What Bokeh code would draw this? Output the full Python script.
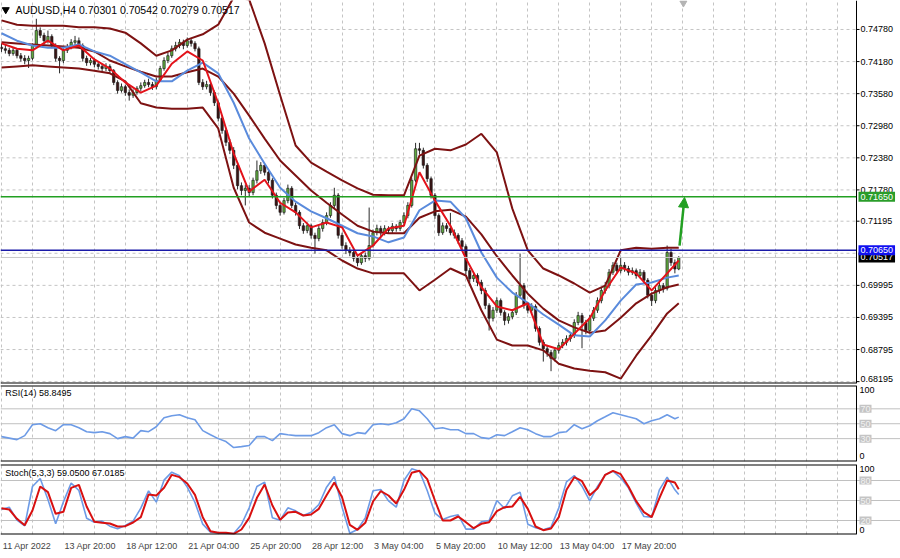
from bokeh.plotting import figure
from bokeh.models import (Range1d, FixedTicker, Span, Label, Arrow, NormalHead, Grid,
                          ColumnDataSource)
from bokeh.core.properties import value
from bokeh.layouts import column
from bokeh.embed import file_html
from bokeh.resources import INLINE

# ---------------- data ----------------
symbol_title = "AUDUSD,H4  0.70301 0.70542 0.70279 0.70517"
rsi_title = "RSI(14) 58.8495"
stoch_title = "Stoch(5,3,3) 59.0500 67.0185"

bar_index = list(range(176))

opens = [
    .7445, .7442, .7439, .7433, .7439, .7429, .7424, .7420, .7424, .7448,
    .7476, .7467, .7457, .7465, .7448, .7424, .7420, .7439, .7446, .7454,
    .7457, .7448, .7424, .7416, .7420, .7413, .7409, .7405, .7409, .7401,
    .7379, .7364, .7371, .7360, .7355, .7360, .7368, .7373, .7379, .7375,
    .7371, .7383, .7405, .7420, .7429, .7442, .7448, .7454, .7448, .7457,
    .7452, .7442, .7379, .7371, .7375, .7360, .7341, .7312, .7289, .7267,
    .7252, .7224, .7186, .7177, .7181, .7173, .7196, .7214, .7224, .7211,
    .7196, .7168, .7149, .7136, .7158, .7181, .7149, .7136, .7111, .7102,
    .7111, .7093, .7087, .7106, .7117, .7130, .7149, .7168, .7093, .7074,
    .7065, .7061, .7050, .7042, .7055, .7050, .7074, .7098, .7106, .7098,
    .7106, .7102, .7110, .7106, .7117, .7130, .7149, .7196, .7255, .7252,
    .7224, .7199, .7168, .7130, .7098, .7111, .7106, .7098, .7093, .7083,
    .7072, .7027, .7012, .7018, .7005, .6990, .6962, .6938, .6953, .6971,
    .6949, .6934, .6941, .6949, .6981, .6999, .6962, .6953, .6960, .6919,
    .6893, .6881, .6874, .6863, .6878, .6887, .6893, .6900, .6906, .6930,
    .6943, .6930, .6915, .6938, .6953, .6971, .6990, .6999, .7024, .7037,
    .7027, .7037, .7031, .7024, .7027, .7018, .7024, .7009, .6981, .6971,
    .6990, .6999, .6994, .7061, .7042, .70301]
highs = [
    .7452, .7449, .7444, .7445, .7442, .7434, .7430, .7429, .7452, .7498,
    .7482, .7472, .7476, .7469, .7452, .7428, .7443, .7451, .7460, .7466,
    .7463, .7452, .7429, .7425, .7424, .7418, .7414, .7415, .7413, .7404,
    .7383, .7377, .7375, .7366, .7366, .7372, .7379, .7384, .7386, .7380,
    .7388, .7410, .7426, .7435, .7448, .7455, .7460, .7459, .7463, .7462,
    .7456, .7446, .7385, .7382, .7379, .7364, .7345, .7318, .7294, .7273,
    .7258, .7229, .7192, .7188, .7187, .7201, .7233, .7230, .7228, .7215,
    .7200, .7173, .7154, .7163, .7188, .7185, .7154, .7140, .7116, .7117,
    .7115, .7098, .7111, .7123, .7136, .7155, .7182, .7172, .7098, .7080,
    .7071, .7066, .7055, .7060, .7061, .7145, .7104, .7113, .7111, .7112,
    .7110, .7116, .7114, .7122, .7136, .7155, .7201, .7266, .7266, .7257,
    .7228, .7203, .7172, .7134, .7117, .7116, .7135, .7104, .7097, .7088,
    .7076, .7032, .7024, .7022, .7010, .6995, .6966, .6959, .6977, .6975,
    .6953, .6947, .6955, .6987, .7059, .7004, .6968, .6966, .6964, .6923,
    .6898, .6887, .6879, .6884, .6893, .6899, .6906, .6912, .6936, .6950,
    .6948, .6935, .6944, .6959, .6977, .6996, .7006, .7030, .7043, .7042,
    .7052, .7043, .7036, .7033, .7031, .7030, .7028, .7013, .6986, .6996,
    .7005, .7004, .7074, .7068, .7048, .70542]
lows = [
    .7436, .7433, .7428, .7429, .7424, .7418, .7413, .7406, .7420, .7444,
    .7462, .7450, .7452, .7443, .7418, .7396, .7415, .7434, .7441, .7449,
    .7443, .7418, .7410, .7411, .7407, .7403, .7399, .7400, .7395, .7374,
    .7358, .7360, .7354, .7345, .7350, .7356, .7363, .7369, .7370, .7365,
    .7366, .7380, .7401, .7415, .7425, .7437, .7443, .7441, .7444, .7446,
    .7437, .7374, .7365, .7366, .7354, .7335, .7306, .7283, .7260, .7245,
    .7217, .7179, .7168, .7149, .7166, .7168, .7190, .7208, .7205, .7190,
    .7162, .7142, .7130, .7132, .7153, .7144, .7130, .7105, .7096, .7097,
    .7087, .7059, .7082, .7100, .7112, .7126, .7144, .7087, .7068, .7058,
    .7054, .7044, .7035, .7038, .7043, .7046, .7070, .7093, .7092, .7093,
    .7096, .7097, .7100, .7101, .7112, .7125, .7145, .7192, .7244, .7218,
    .7193, .7162, .7124, .7092, .7094, .7100, .7093, .7087, .7077, .7066,
    .7020, .7005, .7006, .6998, .6983, .6955, .6915, .6932, .6948, .6943,
    .6925, .6928, .6936, .6944, .6976, .6956, .6947, .6948, .6913, .6887,
    .6857, .6866, .6839, .6857, .6872, .6882, .6887, .6894, .6901, .6925,
    .6882, .6908, .6910, .6933, .6948, .6966, .6984, .6994, .7019, .7021,
    .7022, .7025, .7018, .7019, .7012, .7013, .7003, .6975, .6961, .6966,
    .6984, .6986, .6990, .7036, .7022, .70279]
closes = [
    .7442, .7439, .7433, .7439, .7429, .7424, .7420, .7424, .7448, .7476,
    .7467, .7457, .7465, .7448, .7424, .7420, .7439, .7446, .7454, .7457,
    .7448, .7424, .7416, .7420, .7413, .7409, .7405, .7409, .7401, .7379,
    .7364, .7371, .7360, .7355, .7360, .7368, .7373, .7379, .7375, .7371,
    .7383, .7405, .7420, .7429, .7442, .7448, .7454, .7448, .7457, .7452,
    .7442, .7379, .7371, .7375, .7360, .7341, .7312, .7289, .7267, .7252,
    .7224, .7186, .7177, .7181, .7173, .7196, .7214, .7224, .7211, .7196,
    .7168, .7149, .7136, .7158, .7181, .7149, .7136, .7111, .7102, .7111,
    .7093, .7087, .7106, .7117, .7130, .7149, .7168, .7093, .7074, .7065,
    .7061, .7050, .7042, .7055, .7050, .7074, .7098, .7106, .7098, .7106,
    .7102, .7110, .7106, .7117, .7130, .7149, .7196, .7255, .7252, .7224,
    .7199, .7168, .7130, .7098, .7111, .7106, .7098, .7093, .7083, .7072,
    .7027, .7012, .7018, .7005, .6990, .6962, .6938, .6953, .6971, .6949,
    .6934, .6941, .6949, .6981, .6999, .6962, .6953, .6960, .6919, .6893,
    .6881, .6874, .6863, .6878, .6887, .6893, .6900, .6906, .6930, .6943,
    .6930, .6915, .6938, .6953, .6971, .6990, .6999, .7024, .7037, .7027,
    .7037, .7031, .7024, .7027, .7018, .7024, .7009, .6981, .6971, .6990,
    .6999, .6994, .7061, .7042, .70301, .70517]

line_index = list(range(0, 173, 4)) + [175]
ma_fast = [
    .7452, .7442, .7439, .7457, .7439, .7448, .7422, .7405, .7379, .7360,
    .7373, .7414, .7437, .7420, .7340, .7246, .7175, .7197, .7154, .7136,
    .7108, .7117, .7108, .7055, .7074, .7106, .7111, .7211, .7158, .7111,
    .7050, .6996, .6960, .6953, .6966, .6889, .6880, .6909, .6938, .6990,
    .7033, .7022, .6990, .7022, .7046]
ma_slow = [
    .7471, .7457, .7448, .7444, .7444, .7450, .7437, .7429, .7413, .7398,
    .7381, .7381, .7401, .7416, .7396, .7341, .7274, .7227, .7182, .7156,
    .7138, .7125, .7111, .7097, .7091, .7080, .7089, .7140, .7158, .7156,
    .7125, .7061, .7014, .6986, .6967, .6945, .6926, .6906, .6904, .6934,
    .6971, .7001, .7005, .7014, .7018]
bb_upper = [
    .7495, .7487, .7485, .7485, .7485, .7482, .7482, .7480, .7472, .7452,
    .7429, .7439, .7459, .7469, .7487, .7538, .7534, .7452, .7355, .7261,
    .7229, .7212, .7196, .7181, .7169, .7168, .7168, .7242, .7255, .7252,
    .7263, .7283, .7248, .7143, .7065, .7031, .7018, .7003, .6986, .6999,
    .7065, .7070, .7068, .7070, .7070]
bb_middle = [
    .7454, .7452, .7450, .7448, .7446, .7444, .7437, .7420, .7409, .7399,
    .7390, .7390, .7398, .7405, .7390, .7358, .7317, .7274, .7233, .7205,
    .7177, .7154, .7132, .7111, .7100, .7097, .7097, .7126, .7138, .7141,
    .7128, .7095, .7054, .7018, .6984, .6956, .6934, .6921, .6911, .6915,
    .6939, .6966, .6984, .6996, .7001]
bb_lower = [
    .7407, .7409, .7411, .7409, .7407, .7405, .7401, .7396, .7381, .7340,
    .7332, .7330, .7330, .7332, .7293, .7182, .7117, .7098, .7087, .7076,
    .7070, .7065, .7046, .7031, .7022, .7022, .7022, .6990, .7010, .7031,
    .7018, .6953, .6898, .6887, .6887, .6878, .6853, .6844, .6840, .6837,
    .6825, .6868, .6906, .6947, .6966]

osc_index = list(range(0, 175, 2)) + [175]
rsi = [
    32.7, 30.7, 28.7, 34.0, 48.7, 50.0, 44.7, 40.7, 48.7, 48.7,
    44.7, 39.3, 38.0, 39.3, 36.7, 30.0, 32.7, 30.7, 40.7, 39.3,
    46.0, 58.0, 60.7, 62.0, 58.0, 55.3, 40.7, 35.3, 30.0, 26.0,
    18.0, 19.3, 20.7, 32.7, 32.7, 27.3, 36.7, 35.3, 34.0, 34.0,
    34.0, 38.0, 44.7, 48.7, 36.7, 34.0, 38.0, 36.7, 48.7, 50.0,
    48.7, 51.3, 56.7, 70.0, 67.3, 56.7, 43.3, 44.7, 42.0, 42.0,
    36.7, 36.7, 31.3, 30.0, 35.3, 34.0, 39.3, 44.7, 42.0, 36.7,
    32.7, 32.7, 38.0, 39.3, 48.7, 43.3, 47.3, 54.0, 59.3, 64.7,
    62.0, 59.3, 56.7, 50.0, 54.0, 56.7, 62.0, 56.7, 58.85]
stoch_main = [
    36.5, 40, 20.5, 12, 71, 83, 51.5, 15, 48, 76,
    65, 23.5, 17.5, 19, 11.5, 7.5, 12.5, 19, 38.5, 64.5,
    47.5, 80.5, 92.5, 87, 70, 47, 14.5, 2.5, 1.5, 0.5,
    0.5, 14, 39, 71, 77.5, 24, 20.5, 39, 34.5, 27.5,
    32.5, 44, 70, 86, 40, 1, 6.5, 24, 64.5, 66.5,
    49.5, 40, 80, 97.5, 94, 65, 31, 21.5, 26, 28.5,
    7, 7, 18, 20, 50, 38, 57, 62.5, 14.5, 9,
    6, 10, 39, 78, 87.5, 71.5, 49.5, 71, 88.5, 94,
    84, 69, 46, 26, 25, 66, 85, 66, 59.05]
stoch_signal = [
    38.5, 36.5, 22.5, 13, 35, 71, 62.5, 30, 33, 69,
    73.5, 41, 18, 16.5, 15.5, 11, 11.5, 17, 25, 59,
    57.5, 69, 88.5, 85, 75.5, 58.5, 25, 4, 1.5, 1.5,
    0, 6.5, 24, 54, 74, 42.5, 21, 32, 33, 27.5,
    29, 37.5, 58, 77, 55, 13.5, 6, 16.5, 48.5, 64,
    57.5, 45.5, 66, 91.5, 94.5, 82, 50, 20, 20, 26,
    17.5, 8.5, 15, 17.5, 34, 40, 41, 55.5, 37.5, 11,
    5.5, 8, 25, 66, 85, 79, 58, 68, 88.5, 94.5,
    89.5, 71, 49, 32.5, 25, 53.5, 80, 77, 67.02]

date_ticks = list(range(0, 161, 16))
date_labels = ["11 Apr 2022", "13 Apr 20:00", "18 Apr 12:00", "21 Apr 04:00",
               "25 Apr 20:00", "28 Apr 12:00", "3 May 04:00", "5 May 20:00",
               "10 May 12:00", "13 May 04:00", "17 May 20:00"]
price_ticks = [0.74780, 0.74180, 0.73580, 0.72980, 0.72380, 0.71780, 0.71195,
               0.69995, 0.69395, 0.68795, 0.68195]
price_grid_extra = [0.70595]
resistance = 0.71650
support = 0.70650
last_price = 0.70517
arrow_start = (175.2, 0.7074)
arrow_end = (176.5, 0.7164)
rsi_levels = [70, 50, 30]
stoch_levels = [80, 50, 20]

for arr in (opens, highs, lows, closes):
    assert len(arr) == len(bar_index)
for arr in (ma_fast, ma_slow, bb_upper, bb_middle, bb_lower):
    assert len(arr) == len(line_index)
for arr in (rsi, stoch_main, stoch_signal):
    assert len(arr) == len(osc_index)

# ---------------- layout / styling ----------------
W = 900
X0 = -0.258            # left edge of the panels (bar units)
PLOT_END = 220.93      # right edge of the chart area = price-axis line
UPP = (PLOT_END - X0) / 856.0   # bar units per pixel
X1 = X0 + 900 * UPP
FONT = "Liberation Sans"
FS = "9px"
GRID = "#c4c4c4"
BAND = "#7d1212"
RED = "#e3121a"
BLUE = "#5a8bdc"
GREEN = "#22a022"
NAVY = "#1a1aa8"
AX_TEXT_X = PLOT_END + 4 * UPP
BADGE_X = PLOT_END + 2 * UPP


def base_fig(h, top, bottom, yr, xaxis=False):
    p = figure(width=W, height=h, x_range=Range1d(X0, X1), y_range=Range1d(*yr),
               output_backend="svg", toolbar_location=None,
               x_axis_location="below" if xaxis else None, y_axis_location=None,
               min_border_left=0, min_border_right=0,
               min_border_top=top, min_border_bottom=bottom)
    p.outline_line_color = None
    p.background_fill_color = "white"
    p.border_fill_color = "white"
    p.xgrid.grid_line_color = None
    p.ygrid.grid_line_color = None
    p.add_layout(Grid(dimension=0, ticker=FixedTicker(ticks=list(range(0, 221, 8))),
                      grid_line_color=GRID, grid_line_dash="3 3"))
    p.add_layout(Span(location=PLOT_END, dimension="height", line_color="black",
                      line_width=1))
    return p


def hborder(p, y):
    p.segment(x0=[X0], x1=[PLOT_END], y0=[y], y1=[y], line_color="black", line_width=2)


def side_label(p, y, text, baseline="middle", boxed=False):
    kw = dict(x=AX_TEXT_X - UPP, y=y, text=text, text_font=FONT, text_font_size=FS,
              text_baseline=baseline, text_align="left")
    if boxed:
        kw.update(text_color="#f2f2f2", background_fill_color="#c4c4c4", padding=1)
    else:
        kw.update(text_color="black")
    p.add_layout(Label(**kw))


# ---------------- main price panel ----------------
YMAIN = (0.68160, 0.75322)
main = base_fig(384, 0, 1, YMAIN)
grid_prices = price_ticks + price_grid_extra
main.segment(x0=[X0] * len(grid_prices), x1=[PLOT_END] * len(grid_prices),
             y0=grid_prices, y1=grid_prices, line_color=GRID, line_dash="3 3", line_width=1)
hborder(main, YMAIN[0])

# price axis: ticks + labels (the lowest label sits on the panel's bottom edge)
main.segment(x0=[PLOT_END] * len(price_ticks), x1=[PLOT_END + 3 * UPP] * len(price_ticks),
             y0=price_ticks, y1=price_ticks, line_color="black", line_width=1)
upper_ticks = price_ticks[:-1]
main.text(x=[AX_TEXT_X] * len(upper_ticks), y=upper_ticks,
          text=[f"{t:.5f}" for t in upper_ticks], text_font=value(FONT),
          text_font_size=value(FS), text_baseline="middle", text_align="left",
          text_color="black")
main.text(x=[AX_TEXT_X], y=[price_ticks[-1] - 0.00012],
          text=[f"{price_ticks[-1]:.5f}"], text_font=value(FONT),
          text_font_size=value(FS), text_baseline="bottom", text_align="left",
          text_color="black")

body_top = [max(o, c) for o, c in zip(opens, closes)]
body_bot = [min(o, c) for o, c in zip(opens, closes)]
fills = ["#5ea83e" if c >= o else "#3b1414" for o, c in zip(opens, closes)]
src = ColumnDataSource(dict(x=bar_index, h=highs, l=lows, t=body_top, b=body_bot, f=fills))
main.segment(x0="x", y0="l", x1="x", y1="h", source=src, line_color="#2a2a2a", line_width=1)
main.vbar(x="x", width=0.62, top="t", bottom="b", source=src, fill_color="f",
          line_color="#151515", line_width=0.6)

for band in (bb_upper, bb_middle, bb_lower):
    main.line(line_index, band, line_color=BAND, line_width=2)
main.line(line_index, ma_slow, line_color=BLUE, line_width=2)
main.line(line_index, ma_fast, line_color=RED, line_width=2)

main.segment(x0=[X0] * 3, x1=[PLOT_END] * 3, y0=[last_price, support, resistance],
             y1=[last_price, support, resistance],
             line_color=["#c8c8c8", NAVY, GREEN], line_width=[1, 1.5, 1.5])
main.add_layout(Arrow(end=NormalHead(size=10, fill_color=GREEN, line_color=GREEN),
                      x_start=arrow_start[0], y_start=arrow_start[1],
                      x_end=arrow_end[0], y_end=arrow_end[1],
                      line_color=GREEN, line_width=2.5))

main.scatter([1.1], [0.75150], marker="inverted_triangle", size=7, color="black")
main.scatter([176.2], [0.75275], marker="inverted_triangle", size=7, color="#b4b4b4")
main.add_layout(Label(x=3.6, y=0.75150, text=symbol_title, text_font=FONT,
                      text_font_size="10.5px", text_baseline="middle", text_color="black"))

for val, bg in ((last_price, "black"), (support, "#1010f0"), (resistance, "#2a9d2a")):
    main.add_layout(Label(x=BADGE_X, y=val, text=f"{val:.5f}", text_font=FONT,
                          text_font_size=FS, text_baseline="middle", text_color="white",
                          background_fill_color=bg, padding=2))

# ---------------- RSI panel ----------------
YRSI = (-0.7, 101.3)
prsi = base_fig(78, 1, 1, YRSI)
for lv in rsi_levels:
    prsi.add_layout(Span(location=lv, dimension="width", line_color="#c0c0c0",
                         line_width=1, level="underlay"))
prsi.line(osc_index, rsi, line_color="#6d9be6", line_width=1.6)
hborder(prsi, YRSI[0])
hborder(prsi, YRSI[1])
prsi.add_layout(Label(x=1.0, y=91, text=rsi_title, text_font=FONT, text_font_size=FS,
                      text_baseline="middle", text_color="black"))
side_label(prsi, 99, "100", baseline="top")
for lv in rsi_levels:
    side_label(prsi, lv, str(lv), boxed=True)
side_label(prsi, 2, "0", baseline="bottom")

# ---------------- Stochastic panel ----------------
YST = (-1, 104)
pst = base_fig(96, 2, 24, YST, xaxis=True)
for lv in stoch_levels:
    pst.add_layout(Span(location=lv, dimension="width", line_color="#c0c0c0",
                        line_width=1, level="underlay"))
pst.line(osc_index, stoch_main, line_color="#6d9be6", line_width=1.6)
pst.line(osc_index, stoch_signal, line_color="#d81010", line_width=2)
hborder(pst, YST[0])
hborder(pst, YST[1])
pst.add_layout(Label(x=1.0, y=92, text=stoch_title, text_font=FONT, text_font_size=FS,
                     text_baseline="middle", text_color="black"))
side_label(pst, 102, "100", baseline="top")
for lv in stoch_levels:
    side_label(pst, lv, str(lv), boxed=True)
side_label(pst, 1, "0", baseline="bottom")

# time axis: each label starts just right of its bar position
EM = {" ": 0.278, ":": 0.278, "A": 0.667, "p": 0.556, "r": 0.333, "M": 0.833,
      "a": 0.556, "y": 0.5}


def text_px(s):
    return sum(EM.get(ch, 0.556) for ch in s) * 9


label_pos = [t + (text_px(s) / 2 + 1) * UPP for t, s in zip(date_ticks, date_labels)]
xa = pst.xaxis[0]
xa.ticker = FixedTicker(ticks=label_pos)
xa.major_label_overrides = {pos: s for pos, s in zip(label_pos, date_labels)}
xa.major_label_text_font = FONT
xa.major_label_text_font_size = FS
xa.major_label_standoff = 0
xa.major_tick_line_color = None
xa.minor_tick_line_color = None
xa.axis_line_color = None

layout = column(main, prsi, pst, spacing=0)
open("out.html", "w").write(file_html(layout, INLINE))
